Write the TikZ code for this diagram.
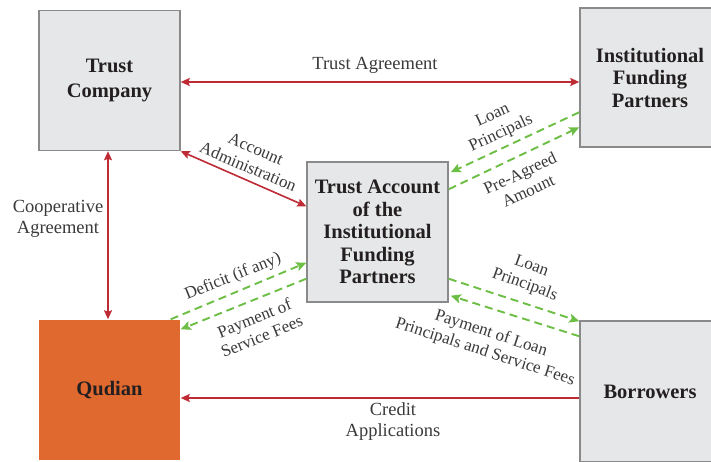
\documentclass[tikz,border=0pt]{standalone}
\usepackage{fontspec}
\setmainfont{Liberation Serif}
\usetikzlibrary{arrows.meta,calc}
\definecolor{boxgray}{HTML}{E6E7E8}
\definecolor{boxline}{HTML}{8A8A8A}
\definecolor{qorange}{HTML}{E0692F}
\definecolor{arrred}{HTML}{BF2B34}
\definecolor{arrgreen}{HTML}{6DBE45}
\definecolor{txtdark}{HTML}{231F20}
\definecolor{lbl}{HTML}{3A3A3A}
\begin{document}
\begin{tikzpicture}[x=1pt,y=-1pt,
  entity/.style={draw=boxline, line width=1.5pt, fill=boxgray, minimum width=141pt, minimum height=140pt, inner sep=0pt, align=center, text=txtdark, font=\fontsize{20.5}{22.5}\selectfont\bfseries},
  redline/.style={draw=arrred, line width=1.6pt},
  greenline/.style={draw=arrgreen, line width=1.9pt, dash pattern=on 8pt off 5pt, -{Stealth[length=10pt,width=9pt,inset=2pt]}},
  hlabel/.style={align=center, text=lbl, font=\fontsize{18.5}{21}\selectfont, inner sep=0pt},
  rlabel/.style={align=center, text=lbl, font=\fontsize{17}{19.5}\selectfont, inner sep=0pt}
]
\clip (0,0) rectangle (711,461);
\fill[white] (0,0) rectangle (711,461);

\node[entity, font=\fontsize{20.5}{25.5}\selectfont\bfseries] (tc) at (109.5,80.5) {Trust\\Company};
\node[entity, minimum width=140pt, minimum height=139pt] (ifp) at (650,77.5) {Institutional\\Funding\\Partners};
\node[entity] (ta) at (377.5,232) {Trust Account\\of the\\Institutional\\Funding\\Partners};
\node[entity, draw=none, fill=qorange] (qd) at (109.5,390) {Qudian};
\node[entity, minimum width=140pt, minimum height=141pt] (br) at (650,391.5) {Borrowers};

\coordinate (yta) at (0,82);
\coordinate (ycr) at (0,398);

% red connectors
\draw[redline, {Stealth[length=9pt,width=8pt,inset=1.5pt]}-{Stealth[length=9pt,width=8pt,inset=1.5pt]}] (tc.east |- yta) -- (ifp.west |- yta);
\draw[redline, {Stealth[length=9pt,width=8pt,inset=1.5pt]}-{Stealth[length=9pt,width=8pt,inset=1.5pt]}] ([xshift=-1.5pt]tc.south) -- ([xshift=-1.5pt]qd.north);
\draw[redline, {Stealth[length=9pt,width=8pt,inset=1.5pt]}-{Stealth[length=9pt,width=8pt,inset=1.5pt]}] (tc.south east) -- ([yshift=-45pt]ta.north west);
\draw[redline, -{Stealth[length=9pt,width=8pt,inset=1.5pt]}] (br.west |- ycr) -- (qd.east |- ycr);

% green connectors
\draw[greenline] ([yshift=-105pt]ifp.north west) -- ([xshift=2pt,yshift=-11pt]ta.north east);
\draw[greenline] ([yshift=-28pt]ta.north east) -- ([yshift=-120pt]ifp.north west);
\draw[greenline] ([xshift=-10pt]qd.north east) -- ([yshift=40pt]ta.south west);
\draw[greenline] ([yshift=24pt]ta.south west) -- ([yshift=-10pt]qd.north east);
\draw[greenline] ([yshift=24pt]ta.south east) -- ([yshift=-1pt]br.north west);
\draw[greenline] ([yshift=-16pt]br.north west) -- ([xshift=2pt,yshift=7pt]ta.south east);

% labels
\node[hlabel] (l1) at (375,65) {Trust Agreement};
\node[hlabel] (l2) at (58,219) {Cooperative\\Agreement};
\node[hlabel] (l3) at (393,422) {Credit\\Applications};
\node[rlabel, rotate=-23] (l4) at (252,158) {Account\\Administration};
\node[rlabel, rotate=25] (l5) at (497,125) {Loan\\Principals};
\node[rlabel, rotate=25] (l6) at (524,182) {Pre-Agreed\\Amount};
\node[rlabel, rotate=22] (l7) at (233,277) {Deficit (if any)};
\node[rlabel, rotate=22] (l8) at (258,327) {Payment of\\Service Fees};
\node[rlabel, rotate=-20] (l9) at (528,276) {Loan\\Principals};
\node[rlabel, rotate=-18] (l10) at (488,343) {Payment of Loan\\Principals and Service Fees};
\end{tikzpicture}
\end{document}
